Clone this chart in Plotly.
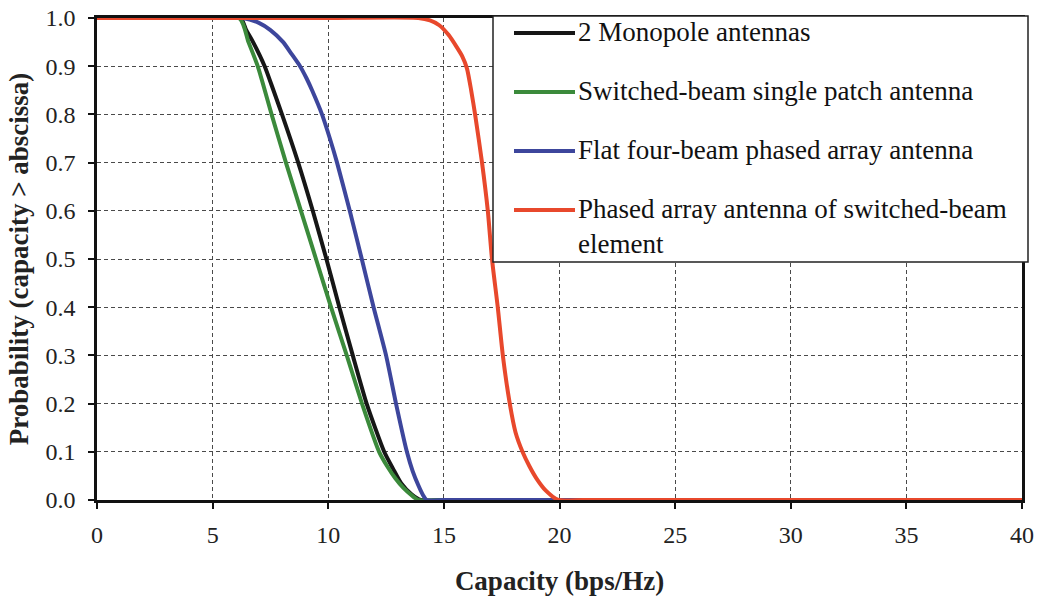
import plotly.graph_objects as go

# ---- data ----
series_names = [
    "2 Monopole antennas",
    "Switched-beam single patch antenna",
    "Flat four-beam phased array antenna",
    "Phased array antenna of switched-beam<br>element",
]
series_colors = ["#161616", "#3b8a3b", "#3d469c", "#e8482c"]

mono_x = [0, 6.2, 6.45, 6.75, 7.25, 7.63, 8.0, 8.7, 9.33, 9.92, 10.48, 11.06, 11.66, 12.42, 12.8, 13.15, 13.6, 14.0, 15, 20, 30, 40]
mono_y = [1, 1, 0.975, 0.95, 0.9, 0.85, 0.8, 0.7, 0.6, 0.5, 0.4, 0.3, 0.2, 0.1, 0.065, 0.035, 0.012, 0, 0, 0, 0, 0]

patch_x = [0, 6.15, 6.55, 6.95, 7.55, 8.17, 8.82, 9.47, 10.12, 10.8, 11.46, 12.2, 12.55, 12.9, 13.25, 13.6, 13.9, 15, 20, 30, 40]
patch_y = [1, 1, 0.95, 0.9, 0.8, 0.7, 0.6, 0.5, 0.4, 0.3, 0.2, 0.1, 0.07, 0.045, 0.025, 0.01, 0, 0, 0, 0, 0]

flat_x = [0, 6.3, 7.0, 7.5, 8.05, 8.42, 8.78, 9.06, 9.3, 9.73, 10.07, 10.38, 10.93, 11.45, 11.96, 12.5, 12.93, 13.4, 13.65, 13.9, 14.1, 14.25, 15, 20, 30, 40]
flat_y = [1, 1, 0.99, 0.975, 0.95, 0.925, 0.9, 0.875, 0.85, 0.8, 0.75, 0.7, 0.6, 0.5, 0.4, 0.3, 0.2, 0.1, 0.06, 0.03, 0.01, 0, 0, 0, 0, 0]

phased_x = [0, 5, 10, 13.9, 14.4, 14.8, 15.2, 15.55, 15.8, 16.0, 16.18, 16.35, 16.65, 16.9, 17.08, 17.33, 17.55, 17.85, 18.1, 18.4, 18.7, 19.0, 19.4, 19.95, 21, 25, 30, 40]
phased_y = [1, 1, 1, 1, 0.995, 0.985, 0.965, 0.94, 0.92, 0.895, 0.85, 0.8, 0.7, 0.6, 0.5, 0.4, 0.3, 0.2, 0.14, 0.1, 0.07, 0.045, 0.02, 0, 0, 0, 0, 0]

x_ticks = [0, 5, 10, 15, 20, 25, 30, 35, 40]
y_ticks = [0.0, 0.1, 0.2, 0.3, 0.4, 0.5, 0.6, 0.7, 0.8, 0.9, 1.0]

xs = [mono_x, patch_x, flat_x, phased_x]
ys = [mono_y, patch_y, flat_y, phased_y]

# ---- layout geometry (pixels) ----
W, H = 1044, 603
L, R, T, B = 97, 22, 18, 103
PW, PH = W - L - R, H - T - B

def px(xpix):
    return (xpix - L) / PW

def py(ypix):
    return (H - B - ypix) / PH

FONT = "Times New Roman"

fig = go.Figure()
for name, color, x, y in zip(series_names, series_colors, xs, ys):
    fig.add_trace(go.Scatter(
        x=x, y=y, mode="lines", name=name,
        line=dict(color=color, width=4, shape="spline", smoothing=0.6),
        showlegend=False,
    ))

axis_common = dict(
    showline=True, linecolor="#111", linewidth=2.5, mirror=True,
    showgrid=True, gridcolor="#4a4a4a", gridwidth=1, griddash="4px,3px",
    ticks="outside", ticklen=6, tickwidth=1.5, tickcolor="#111",
    tickfont=dict(family=FONT, size=24, color="#222"),
    zeroline=False, automargin=False,
)

fig.update_xaxes(range=[0, 40], tickvals=x_ticks, ticktext=[str(v) for v in x_ticks],
                 ticklabelstandoff=5,
                 title=dict(text="<b>Capacity (bps/Hz)</b>", font=dict(family=FONT, size=27, color="#222"),
                            standoff=25),
                 **axis_common)
fig.update_yaxes(range=[0, 1], tickvals=y_ticks, ticktext=[f"{v:.1f}" for v in y_ticks],
                 ticklabelstandoff=8,
                 title=dict(text="<b>Probability (capacity > abscissa)</b>",
                            font=dict(family=FONT, size=27, color="#222"), standoff=10),
                 **axis_common)

# ---- legend box drawn in paper coordinates ----
shapes = [dict(type="rect", xref="paper", yref="paper",
               x0=px(493), x1=px(1028), y0=py(262), y1=py(16),
               fillcolor="white", line=dict(color="#222", width=1.5), layer="above")]
annotations = []
line_y = [33, 92, 151, 210]
for name, color, ly in zip(series_names, series_colors, line_y):
    shapes.append(dict(type="line", xref="paper", yref="paper",
                       x0=px(514), x1=px(575), y0=py(ly), y1=py(ly),
                       line=dict(color=color, width=4), layer="above"))
    annotations.append(dict(xref="paper", yref="paper", x=px(576), y=py(ly - 18),
                            xanchor="left", yanchor="top", align="left",
                            text=name, showarrow=False,
                            font=dict(family=FONT, size=27, color="#111")))

fig.update_layout(
    width=W, height=H,
    margin=dict(l=L, r=R, t=T, b=B, autoexpand=False),
    paper_bgcolor="white", plot_bgcolor="white",
    font=dict(family=FONT),
    shapes=shapes, annotations=annotations,
    showlegend=False,
)

fig.write_html("out.html")
